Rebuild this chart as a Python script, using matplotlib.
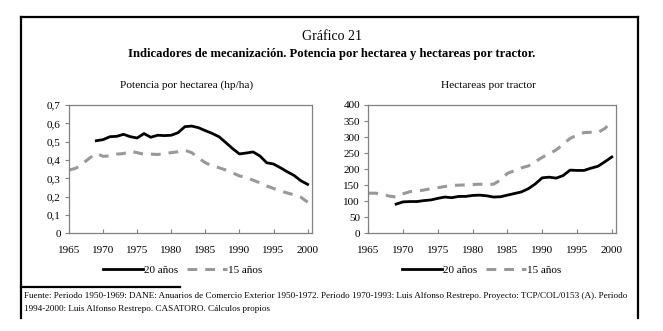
import matplotlib
matplotlib.use('Agg')
import matplotlib.pyplot as plt
from matplotlib.lines import Line2D
from matplotlib.ticker import FuncFormatter

plt.rcParams['font.family'] = ['Liberation Serif', 'DejaVu Serif']

# datos
anios_20 = list(range(1969, 2001))
anios_15 = list(range(1965, 2001))

potencia_20 = [0.505, 0.511, 0.527, 0.529, 0.54, 0.527, 0.52, 0.544, 0.524, 0.535,
               0.533, 0.535, 0.549, 0.582, 0.585, 0.576, 0.56, 0.545, 0.527, 0.495,
               0.462, 0.433, 0.438, 0.444, 0.422, 0.385, 0.378, 0.358, 0.336, 0.316,
               0.287, 0.267]
potencia_15 = [0.345, 0.355, 0.38, 0.41, 0.436, 0.42, 0.422, 0.432, 0.435, 0.448,
               0.44, 0.431, 0.432, 0.43, 0.435, 0.44, 0.445, 0.453, 0.44, 0.41,
               0.385, 0.368, 0.358, 0.345, 0.33, 0.313, 0.305, 0.29, 0.275, 0.258,
               0.245, 0.232, 0.22, 0.21, 0.197, 0.17]

hectareas_20 = [91, 98, 99, 99, 102, 104, 109, 113, 111, 115,
                115, 118, 119, 117, 113, 114, 119, 124, 129, 139,
                154, 173, 175, 172, 180, 197, 196, 196, 203, 209,
                223, 238]
hectareas_15 = [125, 125, 122, 116, 113, 123, 130, 131, 135, 139,
                142, 146, 149, 150, 151, 152, 153, 152, 153, 166,
                187, 195, 204, 210, 223, 237, 248, 260, 277, 296,
                306, 314, 315, 314, 327, 348]

x_ticks = [1965, 1970, 1975, 1980, 1985, 1990, 1995, 2000]

fig = plt.figure(figsize=(6.63, 3.31), dpi=100)

# marco exterior (sin borde inferior)
W, H = 663, 331
def fx(px): return px / W
def fy(py): return 1 - py / H
for xs, ys in [([21, 21], [17, 318]), ([638, 638], [17, 318]), ([21, 638], [17, 17]),
               ([21, 180], [287, 287])]:
    fig.add_artist(Line2D([fx(x) for x in xs], [fy(y) for y in ys],
                          color='black', lw=1.6))

fig.text(0.5, fy(37), 'Gráfico 21', ha='center', va='center', fontsize=10)
fig.text(0.5, fy(54), 'Indicadores de mecanización. Potencia por hectarea y hectareas por tractor.',
         ha='center', va='center', fontsize=9.1, fontweight='bold')

def comma(v, pos):
    if abs(v) < 1e-9:
        return '0'
    return ('%.1f' % v).replace('.', ',')

def panel(rect, sub, y20, y15, ylim, yticks, fmt, legend_x):
    ax = fig.add_axes(rect)
    ax.plot(anios_20, y20, color='black', lw=2.0, label='20 años')
    ax.plot(anios_15, y15, color='#999999', lw=2.2, dashes=(3.2, 2.6), label='15 años')
    ax.set_xlim(1965, 2000.6)
    ax.set_ylim(*ylim)
    ax.set_xticks(x_ticks)
    ax.set_yticks(yticks)
    if fmt:
        ax.yaxis.set_major_formatter(FuncFormatter(fmt))
    for s in ax.spines.values():
        s.set_color('#808080')
        s.set_linewidth(0.9)
    ax.tick_params(axis='x', direction='in', length=3, color='#808080',
                   labelsize=8, pad=9)
    ax.tick_params(axis='y', direction='out', length=3, color='#808080',
                   labelsize=8, pad=3)
    fig.text(rect[0] + rect[2] / 2 - 0.005, fy(85), sub, ha='center', va='center', fontsize=8.2)
    ax.legend(loc='center', bbox_to_anchor=(fx(legend_x), fy(270)),
              bbox_transform=fig.transFigure, ncol=2, frameon=False,
              fontsize=8, handlelength=3.6, handletextpad=0.1, columnspacing=0.8)
    return ax

panel([fx(69), fy(233.3), fx(311.7) - fx(69), fy(105) - fy(233.3)],
      'Potencia por hectarea (hp/ha)', potencia_20, potencia_15,
      (0, 0.7), [0, 0.1, 0.2, 0.3, 0.4, 0.5, 0.6, 0.7], comma, 183)
panel([fx(368.3), fy(233.3), fx(616) - fx(368.3), fy(105) - fy(233.3)],
      'Hectareas por tractor', hectareas_20, hectareas_15,
      (0, 400), list(range(0, 401, 50)), None, 482)

fig.text(fx(24), fy(296), 'Fuente: Periodo 1950-1969: DANE: Anuarios de Comercio Exterior 1950-1972. '
         'Periodo 1970-1993: Luis Alfonso Restrepo. Proyecto: TCP/COL/0153 (A). Periodo',
         ha='left', va='center', fontsize=6.6)
fig.text(fx(24), fy(309), '1994-2000: Luis Alfonso Restrepo. CASATORO. Cálculos propios',
         ha='left', va='center', fontsize=6.6)

fig.savefig('out.png', dpi=100)
